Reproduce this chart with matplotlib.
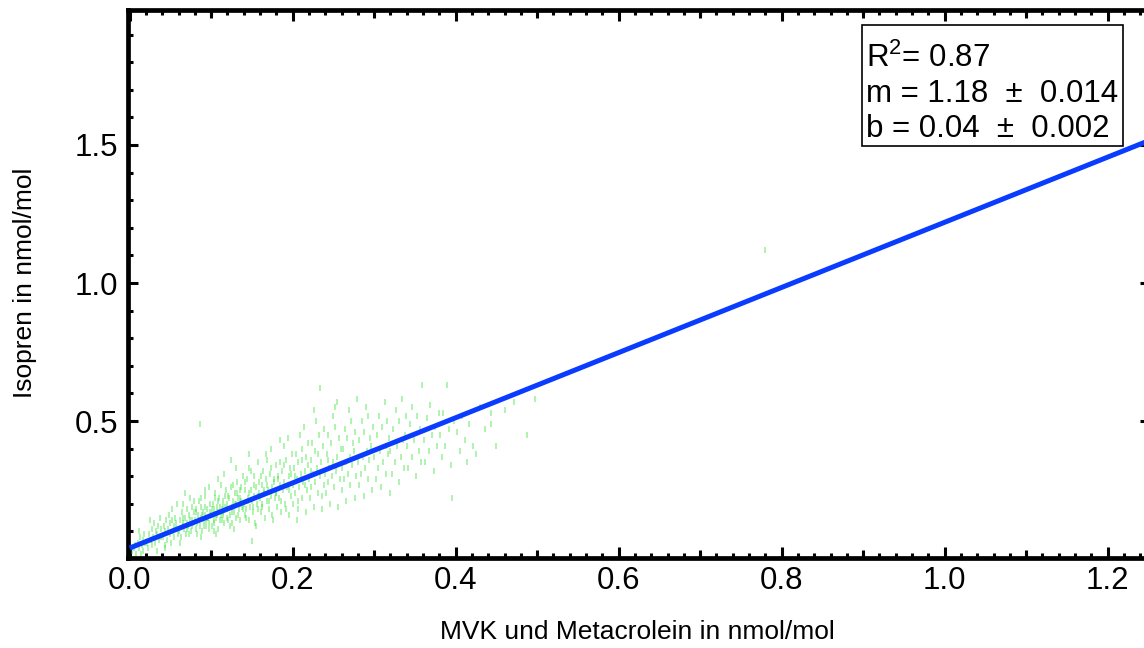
import matplotlib
matplotlib.use("Agg")
import matplotlib.pyplot as plt
from matplotlib.patches import Rectangle
from matplotlib.ticker import MultipleLocator, FixedLocator, NullFormatter
import numpy as np

plt.rcParams['font.family'] = ['Liberation Sans', 'DejaVu Sans']
plt.rcParams['mathtext.fontset'] = 'custom'
plt.rcParams['mathtext.rm'] = 'Liberation Sans'
plt.rcParams['mathtext.it'] = 'Liberation Sans:italic'

# MVK + Metacrolein vs. Isopren (nmol/mol), one entry per measurement
mvk = [
    0.003, 0.006, 0.008, 0.010, 0.012, 0.013, 0.015, 0.016, 0.017, 0.018, 0.019, 0.005, 0.011, 0.014,
    0.021, 0.023, 0.024, 0.026, 0.027, 0.028, 0.029, 0.030, 0.031, 0.032, 0.033, 0.034, 0.035, 0.036, 0.037, 0.038, 0.039, 0.025,
    0.041, 0.042, 0.043, 0.044, 0.045, 0.046, 0.047, 0.048, 0.049, 0.050, 0.051, 0.052, 0.053, 0.054, 0.055, 0.056, 0.057, 0.058, 0.059, 0.044, 0.052, 0.057,
    0.061, 0.062, 0.063, 0.064, 0.065, 0.066, 0.067, 0.068, 0.069, 0.070, 0.071, 0.072, 0.073, 0.074, 0.075, 0.076, 0.077, 0.078, 0.079, 0.062, 0.065, 0.068, 0.071, 0.074, 0.077, 0.079, 0.066, 0.073,
    0.080, 0.081, 0.082, 0.083, 0.084, 0.085, 0.086, 0.087, 0.088, 0.089, 0.090, 0.091, 0.092, 0.093, 0.094, 0.095, 0.096, 0.097, 0.098, 0.099, 0.081, 0.083, 0.085, 0.087, 0.089, 0.091, 0.093, 0.095, 0.097, 0.099, 0.086, 0.092, 0.088, 0.094,
    0.100, 0.101, 0.102, 0.103, 0.104, 0.105, 0.106, 0.107, 0.108, 0.109, 0.110, 0.111, 0.112, 0.113, 0.114, 0.115, 0.116, 0.117, 0.118, 0.119, 0.101, 0.103, 0.105, 0.107, 0.109, 0.111, 0.113, 0.115, 0.117, 0.119, 0.104, 0.108, 0.112, 0.116, 0.106, 0.114,
    0.120, 0.121, 0.122, 0.123, 0.124, 0.125, 0.126, 0.127, 0.128, 0.129, 0.130, 0.131, 0.132, 0.133, 0.134, 0.135, 0.136, 0.137, 0.138, 0.139, 0.121, 0.123, 0.125, 0.127, 0.129, 0.131, 0.133, 0.135, 0.137, 0.139, 0.124, 0.128, 0.132, 0.136,
    0.140, 0.141, 0.142, 0.143, 0.144, 0.145, 0.146, 0.147, 0.148, 0.149, 0.150, 0.151, 0.152, 0.153, 0.154, 0.155, 0.156, 0.157, 0.158, 0.159, 0.141, 0.143, 0.145, 0.147, 0.149, 0.151, 0.153, 0.155, 0.157, 0.159, 0.150, 0.146,
    0.160, 0.161, 0.162, 0.163, 0.164, 0.165, 0.166, 0.167, 0.168, 0.169, 0.170, 0.171, 0.172, 0.173, 0.174, 0.175, 0.176, 0.177, 0.178, 0.179, 0.161, 0.163, 0.165, 0.167, 0.169, 0.171, 0.173, 0.175, 0.177, 0.179,
    0.180, 0.181, 0.182, 0.183, 0.184, 0.185, 0.186, 0.187, 0.188, 0.189, 0.190, 0.191, 0.192, 0.193, 0.194, 0.195, 0.196, 0.197, 0.198, 0.199, 0.182, 0.186, 0.190, 0.194, 0.198, 0.184, 0.192, 0.196,
    0.200, 0.201, 0.202, 0.203, 0.204, 0.205, 0.206, 0.207, 0.208, 0.209, 0.210, 0.211, 0.212, 0.213, 0.214, 0.215, 0.216, 0.217, 0.218, 0.219, 0.203, 0.207, 0.211, 0.215, 0.219, 0.205,
    0.220, 0.221, 0.222, 0.223, 0.224, 0.225, 0.226, 0.227, 0.228, 0.229, 0.230, 0.231, 0.232, 0.233, 0.234, 0.235, 0.236, 0.237, 0.238, 0.239, 0.222, 0.226, 0.231, 0.236,
    0.240, 0.241, 0.242, 0.243, 0.244, 0.245, 0.246, 0.247, 0.248, 0.249, 0.250, 0.251, 0.252, 0.253, 0.254, 0.255, 0.256, 0.257, 0.258, 0.259, 0.244, 0.252,
    0.260, 0.261, 0.262, 0.263, 0.264, 0.265, 0.266, 0.267, 0.268, 0.269, 0.270, 0.271, 0.272, 0.273, 0.274, 0.275, 0.276, 0.277, 0.278, 0.279,
    0.280, 0.281, 0.282, 0.284, 0.285, 0.286, 0.287, 0.288, 0.289, 0.290, 0.291, 0.292, 0.293, 0.294, 0.295, 0.296, 0.297, 0.299,
    0.300, 0.302, 0.303, 0.305, 0.306, 0.307, 0.309, 0.310, 0.311, 0.313, 0.314, 0.315, 0.316, 0.317, 0.318, 0.319,
    0.320, 0.322, 0.323, 0.325, 0.327, 0.328, 0.330, 0.331, 0.333, 0.334, 0.336, 0.337, 0.338, 0.339,
    0.340, 0.342, 0.344, 0.346, 0.347, 0.349, 0.351, 0.353, 0.355, 0.356, 0.358, 0.359,
    0.361, 0.363, 0.365, 0.367, 0.369, 0.371, 0.373, 0.375, 0.377, 0.379,
    0.381, 0.383, 0.385, 0.387, 0.389, 0.392, 0.394, 0.396, 0.398,
    0.402, 0.405, 0.408, 0.411, 0.414, 0.417, 0.421, 0.425, 0.430, 0.436,
    0.443, 0.449, 0.461, 0.472, 0.488, 0.498, 0.443,
    0.780,
]
isopren = [
    0.03, 0.05, 0.02, 0.06, 0.04, 0.08, 0.05, 0.03, 0.07, 0.09, 0.06, 0.04, 0.10, 0.02,
    0.06, 0.04, 0.09, 0.07, 0.11, 0.05, 0.08, 0.13, 0.06, 0.10, 0.03, 0.09, 0.12, 0.07, 0.15, 0.08, 0.11, 0.14,
    0.08, 0.12, 0.05, 0.10, 0.14, 0.07, 0.11, 0.16, 0.09, 0.13, 0.06, 0.18, 0.10, 0.12, 0.08, 0.15, 0.11, 0.20, 0.09, 0.04, 0.14, 0.13,
    0.10, 0.14, 0.08, 0.17, 0.12, 0.20, 0.11, 0.15, 0.09, 0.13, 0.18, 0.12, 0.16, 0.22, 0.10, 0.14, 0.19, 0.13, 0.17, 0.06, 0.15, 0.24, 0.11, 0.14, 0.12, 0.21, 0.13, 0.09,
    0.14, 0.11, 0.18, 0.13, 0.16, 0.21, 0.12, 0.15, 0.19, 0.10, 0.17, 0.14, 0.23, 0.16, 0.12, 0.18, 0.15, 0.26, 0.13, 0.20, 0.17, 0.09, 0.14, 0.22, 0.16, 0.12, 0.19, 0.15, 0.11, 0.17, 0.49, 0.25, 0.08, 0.14,
    0.16, 0.12, 0.20, 0.14, 0.18, 0.24, 0.15, 0.19, 0.11, 0.17, 0.22, 0.14, 0.27, 0.18, 0.16, 0.21, 0.13, 0.19, 0.25, 0.15, 0.18, 0.10, 0.22, 0.16, 0.29, 0.19, 0.14, 0.17, 0.23, 0.20, 0.13, 0.21, 0.16, 0.31, 0.09, 0.19,
    0.18, 0.14, 0.22, 0.16, 0.26, 0.19, 0.13, 0.21, 0.17, 0.24, 0.20, 0.15, 0.28, 0.22, 0.18, 0.25, 0.14, 0.21, 0.19, 0.30, 0.23, 0.12, 0.17, 0.27, 0.20, 0.33, 0.16, 0.22, 0.26, 0.18, 0.36, 0.11, 0.24, 0.20,
    0.20, 0.16, 0.25, 0.18, 0.29, 0.22, 0.14, 0.24, 0.19, 0.32, 0.21, 0.17, 0.27, 0.23, 0.13, 0.26, 0.20, 0.35, 0.18, 0.24, 0.28, 0.15, 0.21, 0.38, 0.25, 0.19, 0.30, 0.12, 0.23, 0.28, 0.065, 0.33,
    0.22, 0.17, 0.27, 0.20, 0.32, 0.24, 0.15, 0.29, 0.21, 0.36, 0.25, 0.18, 0.31, 0.23, 0.40, 0.26, 0.14, 0.28, 0.22, 0.34, 0.30, 0.19, 0.25, 0.38, 0.27, 0.21, 0.33, 0.16, 0.29, 0.24,
    0.24, 0.19, 0.30, 0.22, 0.35, 0.27, 0.17, 0.32, 0.25, 0.41, 0.28, 0.20, 0.36, 0.26, 0.44, 0.30, 0.16, 0.33, 0.23, 0.38, 0.29, 0.21, 0.34, 0.27, 0.31, 0.43, 0.18, 0.25,
    0.27, 0.20, 0.33, 0.24, 0.38, 0.29, 0.18, 0.35, 0.26, 0.45, 0.31, 0.22, 0.40, 0.28, 0.48, 0.32, 0.17, 0.37, 0.25, 0.42, 0.30, 0.21, 0.36, 0.27, 0.34, 0.14,
    0.29, 0.22, 0.36, 0.26, 0.42, 0.31, 0.19, 0.39, 0.28, 0.50, 0.33, 0.24, 0.45, 0.30, 0.62, 0.35, 0.18, 0.41, 0.27, 0.47, 0.32, 0.54, 0.38, 0.23,
    0.31, 0.24, 0.38, 0.28, 0.45, 0.33, 0.20, 0.42, 0.30, 0.52, 0.35, 0.26, 0.48, 0.32, 0.57, 0.37, 0.19, 0.44, 0.29, 0.40, 0.36, 0.55,
    0.33, 0.25, 0.40, 0.29, 0.47, 0.35, 0.21, 0.44, 0.31, 0.54, 0.37, 0.27, 0.50, 0.34, 0.42, 0.39, 0.22, 0.46, 0.30, 0.58,
    0.35, 0.27, 0.43, 0.31, 0.50, 0.37, 0.23, 0.46, 0.33, 0.55, 0.39, 0.29, 0.52, 0.36, 0.44, 0.41, 0.25, 0.48,
    0.37, 0.29, 0.45, 0.33, 0.52, 0.39, 0.26, 0.48, 0.35, 0.57, 0.41, 0.31, 0.50, 0.38, 0.44, 0.24,
    0.39, 0.31, 0.47, 0.35, 0.54, 0.41, 0.28, 0.50, 0.37, 0.58, 0.43, 0.33, 0.45, 0.52,
    0.41, 0.33, 0.49, 0.37, 0.55, 0.43, 0.30, 0.52, 0.39, 0.47, 0.35, 0.63,
    0.43, 0.35, 0.51, 0.39, 0.56, 0.45, 0.32, 0.48, 0.41, 0.53,
    0.45, 0.37, 0.53, 0.41, 0.63, 0.47, 0.34, 0.22, 0.50,
    0.46, 0.39, 0.52, 0.43, 0.35, 0.49, 0.41, 0.38, 0.55, 0.47,
    0.53, 0.41, 0.54, 0.57, 0.45, 0.58, 0.49,
    1.12,
]

# Linear fit results
r_squared = 0.87
slope, slope_err = 1.18, 0.014
intercept, intercept_err = 0.04, 0.002

x_ticks = [0.0, 0.2, 0.4, 0.6, 0.8, 1.0, 1.2]
y_ticks = [0.5, 1.0, 1.5]

W, H = 1144, 648
fig = plt.figure(figsize=(W / 100, H / 100), dpi=100)
ax = fig.add_axes([128 / W, (H - 558) / H, (1150 - 128) / W, (558 - 10) / H])

ax.plot(mvk, isopren, linestyle='none', marker='|', markersize=4.4,
        markeredgewidth=1.1, color='#1ee01e', alpha=0.45, zorder=2)

x_fit = np.array([0.0, 1.3])
ax.plot(x_fit, intercept + slope * x_fit, color='#0a3cff', lw=3.6,
        solid_capstyle='butt', zorder=3)

ax.set_xlim(-0.002, 1.252)
ax.set_ylim(0.004, 1.989)

ax.xaxis.set_major_locator(FixedLocator(x_ticks))
ax.xaxis.set_minor_locator(MultipleLocator(0.02))
ax.yaxis.set_major_locator(FixedLocator(y_ticks))
ax.yaxis.set_minor_locator(MultipleLocator(0.1))
ax.set_xticklabels([f"{v:.1f}" for v in x_ticks])
ax.set_yticklabels([f"{v:.1f}" for v in y_ticks])

ax.tick_params(which='both', direction='in', top=True, right=True, width=2.2,
               color='black')
ax.tick_params(axis='x', which='major', length=8, pad=6, labelsize=22.5)
ax.tick_params(axis='x', which='minor', length=3.6)
ax.tick_params(axis='y', which='major', length=7, pad=7, labelsize=22.5)
ax.tick_params(axis='y', which='minor', length=3.6)

# intermediate ticks at odd tenths on the x axis
for loc in ('bottom', 'top'):
    sec = ax.secondary_xaxis(loc)
    sec.xaxis.set_major_locator(FixedLocator([0.1, 0.3, 0.5, 0.7, 0.9, 1.1]))
    sec.xaxis.set_major_formatter(NullFormatter())
    sec.tick_params(direction='in', length=5.8, width=2.2)
    sec.spines[:].set_visible(False)

for s in ax.spines.values():
    s.set_linewidth(3.4)

fig.text(637 / W, 1 - 632 / H, "MVK und Metacrolein in nmol/mol",
         ha='center', va='center', fontsize=19)
fig.text(25 / W, 1 - 283 / H, "Isopren in nmol/mol", rotation=90,
         ha='center', va='center', fontsize=19)

# fit statistics box
fig.patches.append(Rectangle((862 / W, 1 - 146 / H), (1123 - 862) / W,
                             (146 - 25) / H, transform=fig.transFigure,
                             facecolor='white', edgecolor='black', lw=1.2,
                             zorder=5))
lines = [
    r"R$^{\mathrm{2}}$= " + f"{r_squared:.2f}",
    f"m = {slope:.2f}  \u00b1  {slope_err:.3f}",
    f"b = {intercept:.2f}  \u00b1  {intercept_err:.3f}",
]
for txt, base in zip(lines, [67, 102, 137]):
    fig.text(866 / W, 1 - base / H, txt, ha='left', va='baseline',
             fontsize=22.5, zorder=6)

fig.savefig("out.png", dpi=100)
